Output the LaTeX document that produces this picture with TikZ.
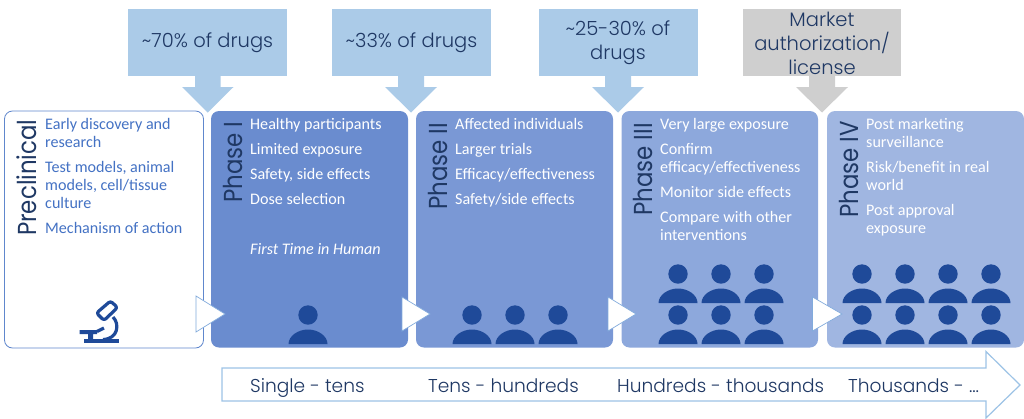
\documentclass[tikz,border=0pt]{standalone}
\usepackage{fontspec}
\setmainfont{Carlito}
\newfontfamily\headfont{Poppins Light}
\newfontfamily\titlefont[FakeStretch=0.88]{Poppins}
\usetikzlibrary{calc}
\definecolor{inkblue}{HTML}{1F3864}
\definecolor{iconblue}{HTML}{1F4A99}
\definecolor{calloutblue}{HTML}{ABCBE8}
\definecolor{calloutgrey}{HTML}{CFCFCF}
\definecolor{edgeblue}{HTML}{9DC3E6}
\definecolor{preblue}{HTML}{4472C4}
\definecolor{phaseone}{HTML}{6A8CCF}
\definecolor{phasetwo}{HTML}{7A98D5}
\definecolor{phasethree}{HTML}{8DA8DC}
\definecolor{phasefour}{HTML}{A0B6E1}
\tikzset{
  x=1pt,y=-1pt,
  phasebox/.style={rounded corners=8pt},
  callouttext/.style={font=\headfont\fontsize{19.5}{24}\selectfont,text=inkblue,align=center,inner sep=0pt},
  phasetitle/.style={rotate=90,anchor=base west,font=\titlefont\fontsize{26}{28}\selectfont,text=inkblue,inner sep=0pt},
  item/.style={anchor=base west,font=\fontsize{16.1}{18}\selectfont,text=white,inner sep=0pt},
  preitem/.style={item,text=preblue},
  scaletext/.style={anchor=base west,font=\headfont\fontsize{18.6}{22}\selectfont,text=inkblue,inner sep=0pt},
  gatearrow/.style={fill=white,draw=edgeblue!70!preblue,line width=.7pt,line join=miter},
  person/.pic={
    \fill[iconblue] (0,-29) circle[radius=9.7];
    \fill[iconblue] (-19.5,0) .. controls (-19.5,-8) and (-10,-14.5) .. (0,-14.5) .. controls (10,-14.5) and (19.5,-8) .. (19.5,0) -- cycle;
  }
}
\newcommand{\callout}[5]{%
  \fill[#5] (#1,9) rectangle (#2,76);
  \fill[#5] (#3,76) -- (#3,87) -- ({#3-13},87) -- ({(#3+#4)/2},112.5) -- ({#4+13},87) -- (#4,87) -- (#4,76) -- cycle;
}
\begin{document}
\begin{tikzpicture}
\useasboundingbox (0,0) rectangle (1024,418);

% phase boxes
\draw[phasebox,fill=white,draw=preblue!85!white,line width=.8pt] (4.5,111) rectangle (203.5,348);
\fill[phasebox,phaseone] (211,111) rectangle (408,347.5);
\fill[phasebox,phasetwo] (416,111) rectangle (613,347.5);
\fill[phasebox,phasethree] (621.5,111) rectangle (818,347.5);
\fill[phasebox,phasefour] (827,111) rectangle (1024,347.5);

% callouts
\callout{128}{287}{195}{220.5}{calloutblue}
\callout{332}{491}{398}{424}{calloutblue}
\callout{539}{698}{605}{631}{calloutblue}
\callout{743}{901}{809}{835}{calloutgrey}
\node[callouttext] (c1) at (207.5,43) {\textasciitilde70\% of drugs};
\node[callouttext] (c2) at (411.5,43) {\textasciitilde33\% of drugs};
\node[callouttext] (c3) at (618,43) {\textasciitilde25-30\% of\\drugs};
\node[callouttext] (c4) at (822,43) {Market\\authorization/\\license};

% titles
\node[phasetitle] (t0) at (36,236) {Preclinical};
\node[phasetitle] (t1) at (242,203) {Phase I};
\node[phasetitle] (t2) at (447,210) {Phase II};
\node[phasetitle] (t3) at (652,216) {Phase III};
\node[phasetitle] (t4) at (858,218) {Phase IV};

% preclinical text
\node[preitem] (p1) at (45,129) {Early discovery and};
\node[preitem] (p2) at (45,147) {research};
\node[preitem] (p3) at (45,172) {Test models, animal};
\node[preitem] (p4) at (45,190) {models, cell/tissue};
\node[preitem] (p5) at (45,208) {culture};
\node[preitem] (p6) at (45,233) {Mechanism of action};

% phase I text
\node[item] (a1) at (250,129) {Healthy participants};
\node[item] (a2) at (250,154) {Limited exposure};
\node[item] (a3) at (250,179) {Safety, side effects};
\node[item] (a4) at (250,204) {Dose selection};
\node[item,font=\itshape\fontsize{16.1}{18}\selectfont] (a5) at (250,254) {First Time in Human};

% phase II text
\node[item] (b1) at (455,129) {Affected individuals};
\node[item] (b2) at (455,154) {Larger trials};
\node[item] (b3) at (455,179) {Efficacy/effectiveness};
\node[item] (b4) at (455,204) {Safety/side effects};

% phase III text
\node[item] (d1) at (660,129) {Very large exposure};
\node[item] (d2) at (660,154) {Confirm};
\node[item] (d3) at (660,172) {efficacy/effectiveness};
\node[item] (d4) at (660,197) {Monitor side effects};
\node[item] (d5) at (660,222) {Compare with other};
\node[item] (d6) at (660,240) {interventions};

% phase IV text
\node[item] (e1) at (866,129) {Post marketing};
\node[item] (e2) at (866,147) {surveillance};
\node[item] (e3) at (866,172) {Risk/benefit in real};
\node[item] (e4) at (866,190) {world};
\node[item] (e5) at (866,215) {Post approval};
\node[item] (e6) at (866,233) {exposure};

% people
\pic at (308,344) {person};
\foreach \px in {472,515,558} \pic at (\px,344) {person};
\foreach \px in {678,721,764} {\pic at (\px,344) {person}; \pic at (\px,303) {person};}
\foreach \px in {862,905,948,991} {\pic at (\px,344) {person}; \pic at (\px,303) {person};}

% microscope
\begin{scope}[draw=iconblue,line width=3.2pt,line join=round]
  \draw (84,341) -- (119,341);
  \fill[iconblue] (79.5,330) -- (97,330) -- (97,334) -- (93,334) -- (93,340) -- (88,340) -- (88,334) -- (79.5,334) -- cycle;
  \draw (113,317) .. controls (120,324) and (118,339) .. (103,339.5);
  \draw[rounded corners=2.5pt] (96.5,313) -- (110.5,301) -- (117.5,307.5) -- (104,320.5) -- cycle;
  \draw (104,328) -- (97,331.5);
\end{scope}

% gate arrows
\draw[gatearrow] (196,296) -- (225,314) -- (196,332) -- cycle;
\draw[gatearrow] (402,297) -- (430,314) -- (402,331) -- cycle;
\draw[gatearrow] (608,297) -- (636,314) -- (608,331) -- cycle;
\draw[gatearrow] (812.5,297) -- (842,314) -- (812.5,331) -- cycle;

% scale arrow
\draw[fill=white,draw=edgeblue,line width=1.2pt,line join=miter] (222,368) -- (986,368) -- (986,351.5) -- (1020,385) -- (986,418) -- (986,401) -- (222,401) -- cycle;
\node[scaletext] (s1) at (250,392) {Single - tens};
\node[scaletext] (s2) at (428,392) {Tens - hundreds};
\node[scaletext] (s3) at (617,392) {Hundreds - thousands};
\node[scaletext] (s4) at (848,392) {Thousands - \ldots};
\end{tikzpicture}
\end{document}
